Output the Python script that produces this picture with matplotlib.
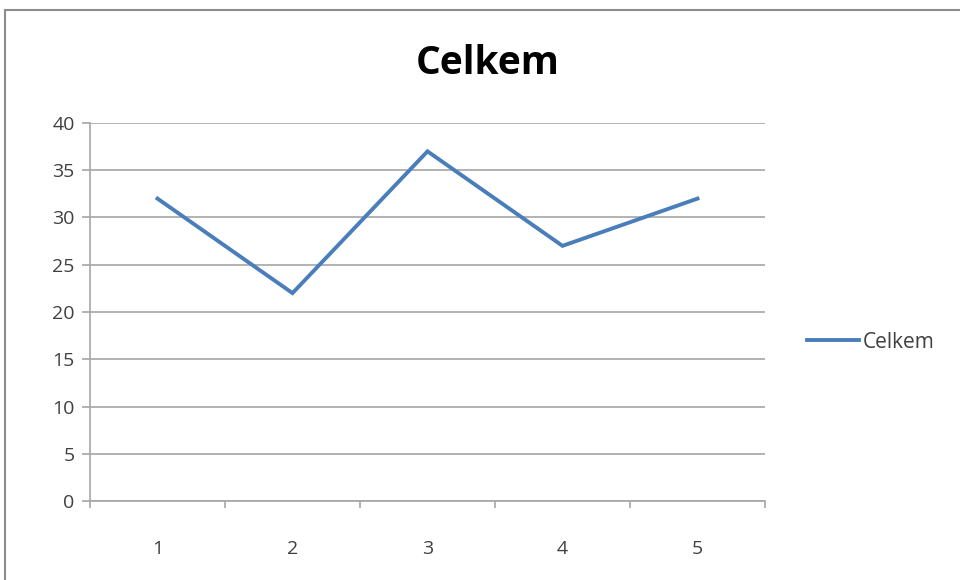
import matplotlib.pyplot as plt
from matplotlib.patches import Rectangle

categories = ['1', '2', '3', '4', '5']
values = [32, 22, 37, 27, 32]
series_name = 'Celkem'

plt.rcParams['font.family'] = ['Open Sans', 'DejaVu Sans']

fig = plt.figure(figsize=(9.6, 5.8), dpi=100)
ax = fig.add_axes([90 / 960, 1 - 501 / 580, 675 / 960, 378 / 580])

# ramecek kolem grafu
fig.patches.append(Rectangle((5 / 960, -0.1), 1.2, 1 - 10 / 580 + 0.1,
                             transform=fig.transFigure, fill=False,
                             edgecolor='#8c8c8c', linewidth=1.5))

x = list(range(1, len(categories) + 1))
ax.plot(x, values, color='#4a7ebb', linewidth=2.8, label=series_name,
        solid_joinstyle='miter')

ax.set_xlim(0.5, len(categories) + 0.5)
ax.set_ylim(0, 40)
ax.set_yticks(range(0, 41, 5))
ax.grid(axis='y', color='#a6a6a6', linewidth=1.2)
ax.set_axisbelow(True)

# hlavni tiky mezi kategoriemi, popisky jako vedlejsi tiky
ax.set_xticks([i + 0.5 for i in range(0, len(categories) + 1)])
ax.set_xticklabels([])
ax.set_xticks(x, minor=True)
ax.set_xticklabels(categories, minor=True)
ax.tick_params(axis='x', which='major', length=5, color='#a6a6a6', width=1.2)
ax.tick_params(axis='x', which='minor', length=0, pad=28, labelsize=14,
               labelcolor='#404040')
ax.tick_params(axis='y', length=6, color='#a6a6a6', width=1.2, pad=5,
               labelsize=14, labelcolor='#404040')

for s in ['top', 'right']:
    ax.spines[s].set_visible(False)
for s in ['left', 'bottom']:
    ax.spines[s].set_color('#a6a6a6')
    ax.spines[s].set_linewidth(1.2)

fig.text(488 / 960, 1 - 63 / 580, 'Celkem', ha='center', va='center',
         fontsize=28, fontweight='bold', color='black')

ax.legend(loc='center left', bbox_to_anchor=(1.035, 0.42), frameon=False,
          fontsize=15, handlelength=2.5, handletextpad=0.15,
          labelcolor='#404040')

plt.savefig('out.png', dpi=100)
